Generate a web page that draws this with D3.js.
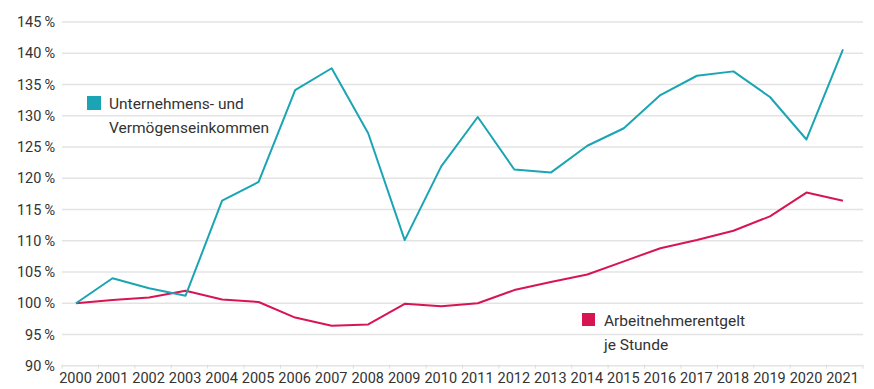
<!DOCTYPE html>
<html>
<head>
<meta charset="utf-8">
<script src="https://cdn.jsdelivr.net/npm/d3@7"></script>
<style>
  body { margin: 0; background: #fff; }
  text { font-family: Roboto, "Open Sans", sans-serif; fill: #333; }
</style>
</head>
<body>
<svg id="canvas" width="874" height="389"></svg>
<script>
let years = [2000, 2001, 2002, 2003, 2004, 2005, 2006, 2007, 2008, 2009, 2010,
             2011, 2012, 2013, 2014, 2015, 2016, 2017, 2018, 2019, 2020, 2021]

// Unternehmens- und Vermögenseinkommen (Index 2000 = 100 %)
let unternehmen = [100.0, 104.0, 102.4, 101.2, 116.4, 119.4, 134.1, 137.6, 127.2, 110.1, 121.9,
                   129.8, 121.4, 120.9, 125.2, 128.0, 133.3, 136.4, 137.1, 133.0, 126.2, 140.6]

// Arbeitnehmerentgelt je Stunde
let arbeitnehmer = [100.0, 100.5, 100.9, 102.0, 100.6, 100.2, 97.7, 96.4, 96.6, 99.9, 99.5,
                    100.0, 102.1, 103.4, 104.6, 106.7, 108.8, 110.1, 111.6, 113.9, 117.7, 116.4]

let yTicks = [90, 95, 100, 105, 110, 115, 120, 125, 130, 135, 140, 145]

let legendTeal = ['Unternehmens- und', 'Vermögenseinkommen']
let legendRed = ['Arbeitnehmerentgelt', 'je Stunde']

let teal = '#1ba5b4'
let red = '#d81553'

let canvas = d3.select('#canvas')

let xScale = d3.scalePoint().domain(years).range([76, 843])
let tickScale = d3.scaleBand().domain(years).range([62, 863])
let yScale = d3.scaleLinear().domain([90, 145]).range([365.7, 22])

// gridlines
canvas.append('g')
    .selectAll('line')
    .data(yTicks)
    .enter()
    .append('line')
    .attr('x1', 62)
    .attr('x2', 863)
    .attr('y1', (d) => yScale(d))
    .attr('y2', (d) => yScale(d))
    .attr('stroke', '#e3e3e3')
    .attr('stroke-width', 1.5)

// y labels
let yAxis = d3.axisLeft(yScale)
    .tickValues(yTicks)
    .tickSize(0)
    .tickPadding(0)
    .tickFormat((d) => d + '\u2009%')

canvas.append('g')
    .attr('transform', 'translate(55,0)')
    .call(yAxis)
    .call((g) => g.select('.domain').remove())
    .selectAll('text')
    .style('font-size', '14.5px')
    .attr('fill', '#333')

// x axis ticks at band edges
let edges = years.map((y) => tickScale(y)).concat([863])
canvas.append('g')
    .selectAll('line')
    .data(edges)
    .enter()
    .append('line')
    .attr('x1', (d) => d)
    .attr('x2', (d) => d)
    .attr('y1', yScale(90) - 1)
    .attr('y2', yScale(90) + 3)
    .attr('stroke', '#dcdcdc')
    .attr('stroke-width', 1)

let xAxis = d3.axisBottom(xScale).tickSize(0).tickPadding(0)
canvas.append('g')
    .attr('transform', 'translate(-1,' + (yScale(90) + 4) + ')')
    .call(xAxis)
    .call((g) => g.select('.domain').remove())
    .selectAll('text')
    .style('font-size', '14.5px')
    .attr('fill', '#333')
    .attr('dy', '0.95em')

// lines
let line = d3.line()
    .x((d, i) => xScale(years[i]))
    .y((d) => yScale(d))

canvas.append('path')
    .datum(arbeitnehmer)
    .attr('d', line)
    .attr('fill', 'none')
    .attr('stroke', red)
    .attr('stroke-width', 2)
    .attr('stroke-linejoin', 'round')

canvas.append('path')
    .datum(unternehmen)
    .attr('d', line)
    .attr('fill', 'none')
    .attr('stroke', teal)
    .attr('stroke-width', 2)
    .attr('stroke-linejoin', 'round')

// legends
let drawLegend = (x, y, color, size, lines) => {
    canvas.append('rect')
        .attr('x', x)
        .attr('y', y)
        .attr('width', size)
        .attr('height', size)
        .attr('fill', color)
    canvas.append('g')
        .selectAll('text')
        .data(lines)
        .enter()
        .append('text')
        .attr('x', x + 22)
        .attr('y', (d, i) => y + 13 + i * 23.5)
        .style('font-size', '15.5px')
        .text((d) => d)
}

drawLegend(87, 96, teal, 14, legendTeal)
drawLegend(582, 313, red, 13, legendRed)
</script>
</body>
</html>
